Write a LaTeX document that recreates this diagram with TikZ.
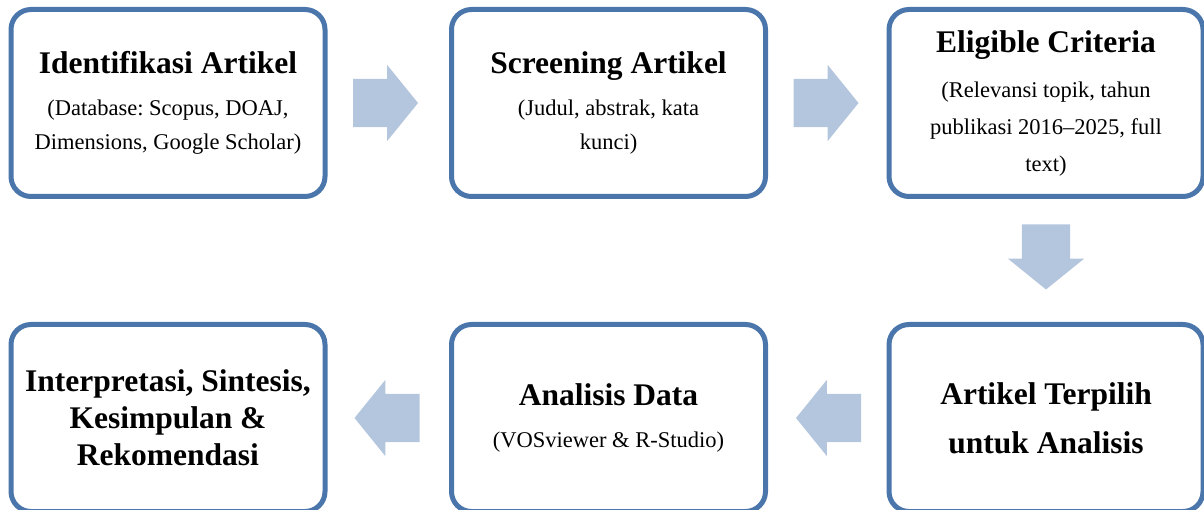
\documentclass[tikz,border=0pt]{standalone}
\usepackage{fontspec}
\setmainfont{Liberation Serif}
\usepackage{xcolor}
\usetikzlibrary{shapes.arrows,positioning,calc}

\definecolor{garisbiru}{RGB}{74,118,171}
\definecolor{panahbiru}{RGB}{180,197,222}

\newcommand{\judul}[1]{{\fontsize{31.5}{34}\selectfont\bfseries #1}}
\frenchspacing

\begin{document}
\begin{tikzpicture}[x=1pt,y=-1pt,
    kotak/.style={draw=garisbiru, line width=5pt, rounded corners=20pt, fill=white,
        minimum width=314pt, minimum height=187pt, outer sep=0pt, align=center,
        font=\fontsize{22.5}{34}\selectfont},
    panah/.style={single arrow, fill=panahbiru, draw=none, minimum height=65pt,
        inner xsep=0pt, inner ysep=24pt, single arrow head extend=14pt,
        single arrow tip angle=102, single arrow head indent=0pt, outer sep=0pt}]
    \useasboundingbox (0,0) rectangle (1204,510);

    % Top row
    \node[kotak] (identifikasi) at (168,103) {\judul{Identifikasi Artikel}\\[8pt]
        (Database: Scopus, DOAJ,\\ Dimensions, Google Scholar)};
    \node[kotak] (screening) at (608.5,103) {\judul{Screening Artikel}\\[8pt]
        (Judul, abstrak, kata\\ kunci)};
    \node[kotak, font=\fontsize{22.5}{37}\selectfont] (kriteria) at (1046,103)
        {\judul{Eligible Criteria}\\[8pt]
        (Relevansi topik, tahun\\ publikasi 2016--2025, full\\ text)};

    % Bottom row
    \node[kotak] (terpilih) at (1046,418) {\judul{Artikel Terpilih}\\[15pt]
        \judul{untuk Analisis}};
    \node[kotak] (analisis) at (608.5,418) {\judul{Analisis Data}\\[8pt]
        (VOSviewer \& R-Studio)};
    \node[kotak] (sintesis) at (168,418) {\judul{Interpretasi, Sintesis,}\\[3pt]
        \judul{Kesimpulan \&}\\[3pt] \judul{Rekomendasi}};

    % Arrows
    \node[panah, anchor=tail] (p1) at ([xshift=28pt]identifikasi.east) {};
    \node[panah, anchor=tail] (p2) at ([xshift=28pt]screening.east) {};
    \node[panah, anchor=tail, shape border rotate=270, inner xsep=24pt, inner ysep=0pt]
        (p3) at ([yshift=-28pt]kriteria.south) {};
    \node[panah, anchor=tail, shape border rotate=180] (p4) at ([xshift=-28pt]terpilih.west) {};
    \node[panah, anchor=tail, shape border rotate=180] (p5) at ([xshift=-32pt]analisis.west) {};
\end{tikzpicture}
\end{document}
